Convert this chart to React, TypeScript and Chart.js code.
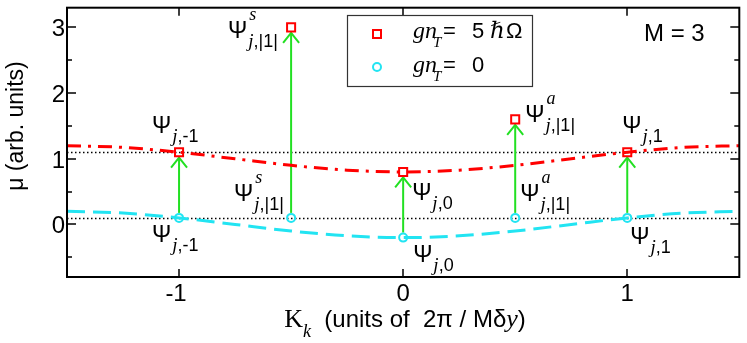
import React, { useEffect, useRef } from "react";
import { Chart, registerables } from "chart.js";
Chart.register(...registerables);

// ---- data ----
const kStates = [-1, -0.5, 0, 0.5, 1];
const muInteracting = [1.1, 3.0, 0.8, 1.6, 1.1];
const muFree = [0.1, 0.1, -0.2, 0.1, 0.1];
const bandK = [-1.5, -1.25, -1, -0.75, -0.5, -0.25, 0, 0.25, 0.5, 0.75, 1, 1.25, 1.5];
const bandInteracting = [1.2, 1.173, 1.1, 1.0, 0.9, 0.827, 0.8, 0.827, 0.9, 1.0, 1.1, 1.173, 1.2];
const bandFree = [0.2, 0.173, 0.1, 0.0, -0.1, -0.173, -0.2, -0.173, -0.1, 0.0, 0.1, 0.173, 0.2];
const dottedLevels = [1.1, 0.1];
const xTicks = [-1, 0, 1];
const xTickLabels = ["-1", "0", "1"];
const yTicks = [0, 1, 2, 3];
const yTickLabels = ["0", "1", "2", "3"];
const yMinorTicks = [-0.5, 0.5, 1.5, 2.5];
const upperSup = ["", "s", "", "a", ""];
const upperSub = ["-1", "|1|", "0", "|1|", "1"];
const lowerSup = ["", "s", "", "a", ""];
const lowerSub = ["-1", "|1|", "0", "|1|", "1"];

// ---- styles ----
const RED = "#ff0000";
const CYAN = "#22e4f2";
const GREEN = "#22e022";
const SANS = "'Liberation Sans', Arial, sans-serif";
const SERIF = "'Liberation Serif', 'DejaVu Serif', serif";

// label offsets (Ψ left/baseline relative to the marker pixel)
const upperOff = [[-27, -19], [-63, 11], [9, 28], [10, 3], [-5, -19]];
const lowerOff = [[-27, 24], [-57, -17], [10, 24], [5, -17], [3, 26]];

function drawPsi(ctx: CanvasRenderingContext2D, x: number, y: number, sup: string, sub: string) {
  ctx.textAlign = "left";
  ctx.textBaseline = "alphabetic";
  ctx.fillStyle = "#000";
  ctx.font = `23px ${SANS}`;
  ctx.fillText("Ψ", x, y);
  let sx = x + ctx.measureText("Ψ").width;
  if (sup) {
    ctx.font = `italic 18px ${SERIF}`;
    ctx.fillText(sup, sx + 2, y - 18);
  }
  ctx.font = `italic 19px ${SERIF}`;
  ctx.fillText("j", sx + 1, y + 9);
  sx += 1 + ctx.measureText("j").width;
  ctx.font = `18px ${SANS}`;
  ctx.fillText("," + sub, sx, y + 9);
}

const overlay = {
  id: "overlay",
  beforeDatasetsDraw(chart: any) {
    const ctx: CanvasRenderingContext2D = chart.ctx;
    const a = chart.chartArea;
    const xs = chart.scales.x;
    const ys = chart.scales.y;
    ctx.save();
    // dotted reference levels
    ctx.strokeStyle = "#000";
    ctx.lineWidth = 1.3;
    ctx.setLineDash([1.5, 2.5]);
    dottedLevels.forEach((v) => {
      const py = Math.round(ys.getPixelForValue(v)) + 0.5;
      ctx.beginPath();
      ctx.moveTo(a.left, py);
      ctx.lineTo(a.right, py);
      ctx.stroke();
    });
    ctx.setLineDash([]);
    // green arrows
    ctx.strokeStyle = GREEN;
    ctx.lineWidth = 2;
    kStates.forEach((k, i) => {
      const px = xs.getPixelForValue(k);
      const y0 = ys.getPixelForValue(muFree[i]) - 5;
      const y1 = ys.getPixelForValue(muInteracting[i]) + 5.5;
      ctx.beginPath();
      ctx.moveTo(px, y0);
      ctx.lineTo(px, y1);
      ctx.stroke();
      ctx.beginPath();
      ctx.moveTo(px - 8, y1 + 10);
      ctx.lineTo(px, y1);
      ctx.lineTo(px + 8, y1 + 10);
      ctx.stroke();
    });
    ctx.restore();
  },
  afterDraw(chart: any) {
    const ctx: CanvasRenderingContext2D = chart.ctx;
    const a = chart.chartArea;
    const xs = chart.scales.x;
    const ys = chart.scales.y;
    ctx.save();
    // frame
    ctx.strokeStyle = "#000";
    ctx.lineWidth = 2;
    ctx.strokeRect(a.left, a.top, a.right - a.left, a.bottom - a.top);
    // ticks
    ctx.lineWidth = 1.5;
    ctx.beginPath();
    xTicks.forEach((v) => {
      const px = Math.round(xs.getPixelForValue(v));
      ctx.moveTo(px, a.bottom); ctx.lineTo(px, a.bottom - 8);
      ctx.moveTo(px, a.top); ctx.lineTo(px, a.top + 8);
    });
    yTicks.forEach((v) => {
      const py = Math.round(ys.getPixelForValue(v));
      ctx.moveTo(a.left, py); ctx.lineTo(a.left + 9, py);
      ctx.moveTo(a.right, py); ctx.lineTo(a.right - 9, py);
    });
    yMinorTicks.forEach((v) => {
      const py = Math.round(ys.getPixelForValue(v));
      ctx.moveTo(a.left, py); ctx.lineTo(a.left + 5, py);
      ctx.moveTo(a.right, py); ctx.lineTo(a.right - 5, py);
    });
    ctx.stroke();
    // tick labels
    ctx.fillStyle = "#000";
    ctx.font = `24px ${SANS}`;
    ctx.textBaseline = "alphabetic";
    ctx.textAlign = "center";
    xTicks.forEach((v, i) => {
      const px = xs.getPixelForValue(v);
      const lbl = xTickLabels[i];
      ctx.fillText(lbl, lbl.startsWith("-") ? px - 3 : px, a.bottom + 24);
    });
    ctx.textAlign = "right";
    yTicks.forEach((v, i) => {
      ctx.fillText(yTickLabels[i], a.left - 2, ys.getPixelForValue(v) + 9);
    });
    // y title
    ctx.save();
    ctx.translate(23, 126);
    ctx.rotate(-Math.PI / 2);
    ctx.textAlign = "center";
    ctx.font = `23px ${SANS}`;
    ctx.fillText("μ (arb. units)", 0, 0);
    ctx.restore();
    // x title
    const parts: [string, string, number][] = [
      ["K", `26px ${SERIF}`, 0],
      ["k", `italic 18px ${SERIF}`, 10],
      ["  (units of  2π / Mδ", `24px ${SANS}`, 0],
      ["y", `italic 26px ${SERIF}`, 0],
      [")", `24px ${SANS}`, 0],
    ];
    let total = 0;
    parts.forEach(([t, f]) => { ctx.font = f; total += ctx.measureText(t).width; });
    let tx = 405 - total / 2;
    ctx.textAlign = "left";
    parts.forEach(([t, f, dy]) => {
      ctx.font = f;
      ctx.fillText(t, tx, 327 + dy);
      tx += ctx.measureText(t).width;
    });
    // state labels
    kStates.forEach((k, i) => {
      const px = xs.getPixelForValue(k);
      const pu = ys.getPixelForValue(muInteracting[i]);
      const pl = ys.getPixelForValue(muFree[i]);
      drawPsi(ctx, px + upperOff[i][0], pu + upperOff[i][1], upperSup[i], upperSub[i]);
      drawPsi(ctx, px + lowerOff[i][0], pl + lowerOff[i][1], lowerSup[i], lowerSub[i]);
    });
    // legend box
    ctx.fillStyle = "#fff";
    ctx.fillRect(347, 15, 185, 71);
    ctx.strokeStyle = "#333";
    ctx.lineWidth = 1.2;
    ctx.strokeRect(347.5, 15.5, 185, 71);
    ctx.strokeStyle = RED;
    ctx.lineWidth = 2;
    ctx.strokeRect(373, 30, 8, 8);
    ctx.strokeStyle = CYAN;
    ctx.beginPath();
    ctx.arc(377, 67, 4, 0, Math.PI * 2);
    ctx.stroke();
    ctx.fillStyle = "#000";
    const legendLine = (by: number, val: string, hbar: boolean) => {
      ctx.font = `italic 24px ${SERIF}`;
      ctx.fillText("gn", 413, by);
      ctx.font = `italic 15px ${SERIF}`;
      ctx.fillText("T", 433, by + 9);
      ctx.font = `22px ${SANS}`;
      ctx.fillText("=", 443, by);
      ctx.fillText(val, 472, by);
      if (hbar) {
        ctx.font = `italic 23px ${SERIF}`;
        ctx.fillText("ℏ", 490, by);
        ctx.font = `22px ${SANS}`;
        ctx.fillText("Ω", 506, by);
      }
    };
    legendLine(38, "5", true);
    legendLine(72, "0", false);
    // M = 3
    ctx.font = `24px ${SANS}`;
    ctx.fillText("M = 3", 644, 41);
    ctx.restore();
  },
};

export default function App() {
  const ref = useRef<HTMLCanvasElement>(null);
  useEffect(() => {
    const canvas = ref.current!;
    const chart = new Chart(canvas, {
      type: "line",
      data: {
        datasets: [
          {
            label: "gnT = 5",
            data: kStates.map((k, i) => ({ x: k, y: muInteracting[i] })),
            showLine: false,
            pointStyle: "rect",
            pointRadius: 5.7,
            borderColor: RED,
            borderWidth: 2,
            backgroundColor: "rgba(0,0,0,0)",
          },
          {
            label: "gnT = 0",
            data: kStates.map((k, i) => ({ x: k, y: muFree[i] })),
            showLine: false,
            pointStyle: "circle",
            pointRadius: 4,
            borderColor: CYAN,
            borderWidth: 2,
            backgroundColor: "rgba(0,0,0,0)",
          },
          {
            label: "band interacting",
            data: bandK.map((k, i) => ({ x: k, y: bandInteracting[i] })),
            pointRadius: 0,
            borderColor: RED,
            borderWidth: 3,
            borderDash: [14, 7, 3, 7],
            cubicInterpolationMode: "monotone",
            fill: false,
          },
          {
            label: "band free",
            data: bandK.map((k, i) => ({ x: k, y: bandFree[i] })),
            pointRadius: 0,
            borderColor: CYAN,
            borderWidth: 3,
            borderDash: [18, 8],
            cubicInterpolationMode: "monotone",
            fill: false,
          },
        ],
      },
      options: {
        animation: false,
        responsive: false,
        devicePixelRatio: 1,
        layout: { padding: { left: 67, right: 5, top: 3, bottom: 66 } },
        scales: {
          x: { type: "linear", min: -1.5, max: 1.5, display: false },
          y: { type: "linear", min: -0.8, max: 3.3, display: false },
        },
        plugins: { legend: { display: false }, tooltip: { enabled: false } },
        events: [],
      },
      plugins: [overlay],
    } as any);
    return () => chart.destroy();
  }, []);
  return (
    <div style={{ position: "absolute", left: 0, top: 0, width: 747, height: 343, background: "#fff" }}>
      <canvas ref={ref} width={747} height={343} />
    </div>
  );
}
